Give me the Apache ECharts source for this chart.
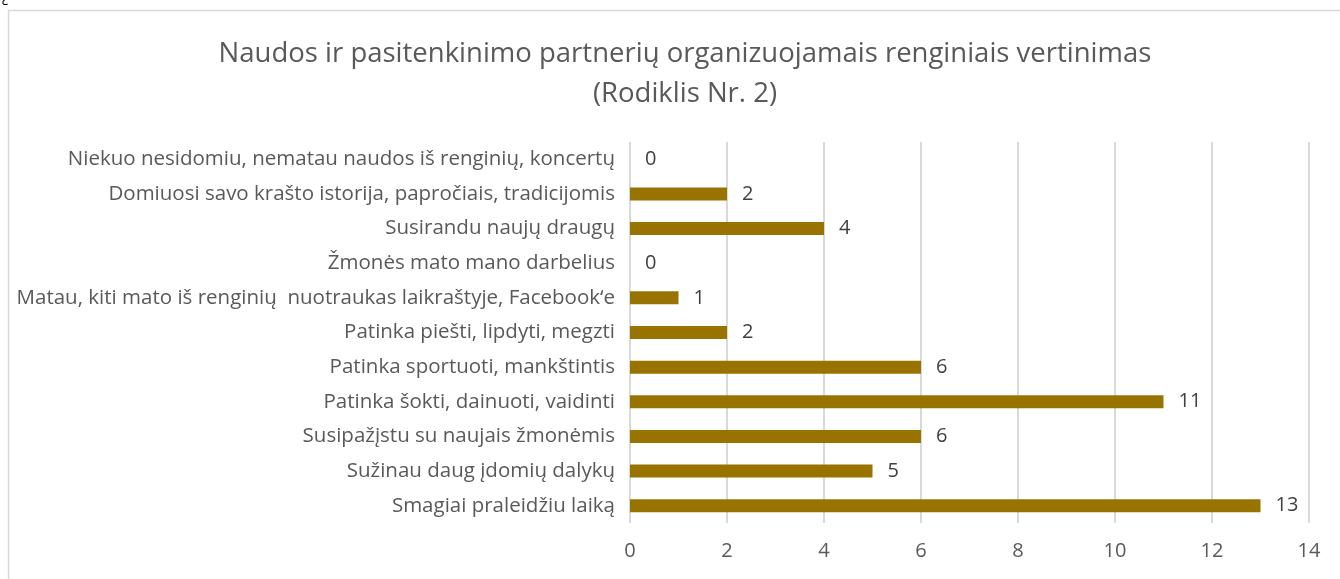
<!DOCTYPE html>
<html><head><meta charset="utf-8">
<script src="https://cdn.jsdelivr.net/npm/echarts@6/dist/echarts.min.js"></script>
<style>html,body{margin:0;padding:0;background:#fff}#c{width:1340px;height:579px}</style>
</head><body><div id="c"></div>
<script>
const categories = [
  "Niekuo nesidomiu, nematau naudos iš renginių, koncertų",
  "Domiuosi savo krašto istorija, papročiais, tradicijomis",
  "Susirandu naujų draugų",
  "Žmonės mato mano darbelius",
  "Matau, kiti mato iš renginių  nuotraukas laikraštyje, Facebook‘e",
  "Patinka piešti, lipdyti, megzti",
  "Patinka sportuoti, mankštintis",
  "Patinka šokti, dainuoti, vaidinti",
  "Susipažįstu su naujais žmonėmis",
  "Sužinau daug įdomių dalykų",
  "Smagiai praleidžiu laiką"
];
const values = [0, 2, 4, 0, 1, 2, 6, 11, 6, 5, 13];
const titleLines = ["Naudos ir pasitenkinimo partnerių organizuojamais renginiais vertinimas", "(Rodiklis Nr. 2)"];

const font = "'Open Sans', sans-serif";
const chart = echarts.init(document.getElementById('c'));
chart.setOption({
  backgroundColor: '#fff',
  animation: false,
  title: {
    text: titleLines.join('\n'),
    left: 680, top: 29, textAlign: 'center',
    textStyle: { fontFamily: font, fontSize: 27.5, fontWeight: 'normal', color: '#595959', lineHeight: 40 }
  },
  graphic: [
    { type: 'rect', shape: { x: 8.5, y: 10.5, width: 1340, height: 600 }, style: { fill: 'none', stroke: '#d9d9d9', lineWidth: 1.5 }, silent: true },
    { type: 'text', left: 2, top: -9, style: { text: '¿', fontSize: 14, fill: '#000', fontFamily: font } }
  ],
  grid: { left: 630, right: 31, top: 142, bottom: 56 },
  xAxis: {
    type: 'value', min: 0, max: 14, interval: 2,
    axisLine: { show: false }, axisTick: { show: false },
    axisLabel: { fontFamily: font, fontSize: 20, color: '#595959', margin: 18 },
    splitLine: { lineStyle: { color: '#d9d9d9', width: 2 } }
  },
  yAxis: {
    type: 'category', data: categories, inverse: true,
    axisLine: { show: false }, axisTick: { show: false },
    axisLabel: { fontFamily: font, fontSize: 20.5, color: '#595959', margin: 15 }
  },
  series: [{
    type: 'bar', data: values, barWidth: 13,
    itemStyle: { color: '#997300' },
    label: { show: true, position: 'right', distance: 15, fontFamily: font, fontSize: 20, color: '#404040' }
  }]
});
</script></body></html>
